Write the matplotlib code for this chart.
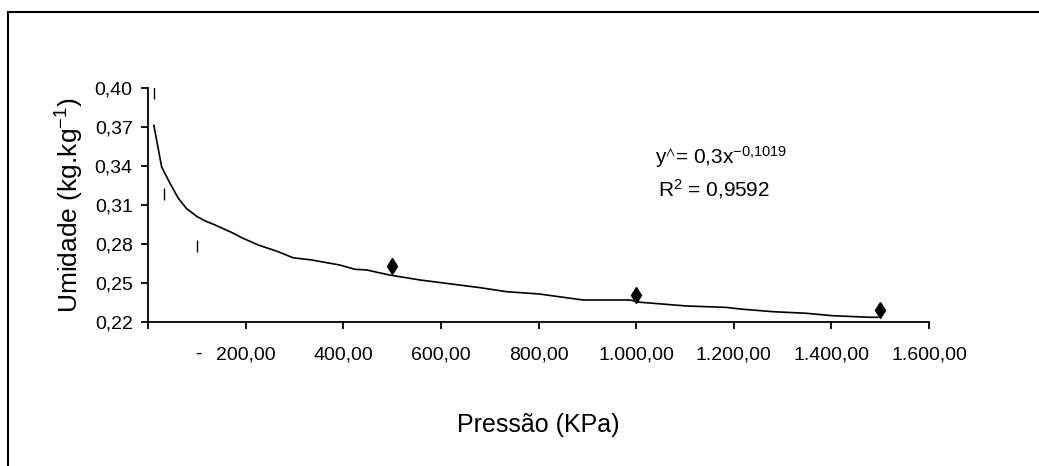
import matplotlib
matplotlib.use('Agg')
import matplotlib.pyplot as plt
from matplotlib.patches import Rectangle

plt.rcParams['font.family'] = ['Liberation Sans', 'DejaVu Sans']
plt.rcParams['mathtext.default'] = 'regular'

# fitted curve
curve_x = [12, 28, 45, 62, 79, 100, 117, 137, 175, 192, 226, 267, 297, 335,
           393, 424, 448, 495, 557, 611, 680, 734, 802, 891, 987, 1007, 1103,
           1185, 1212, 1280, 1348, 1403, 1478, 1495]
curve_y = [0.371, 0.339, 0.3265, 0.315, 0.307, 0.301, 0.2975, 0.2945, 0.288,
           0.2846, 0.279, 0.2738, 0.2692, 0.2675, 0.2636, 0.2603, 0.2598,
           0.2559, 0.2521, 0.2495, 0.2462, 0.2431, 0.2413, 0.2367, 0.2367,
           0.235, 0.2321, 0.231, 0.2298, 0.2277, 0.2265, 0.2246, 0.2234, 0.2234]

# observed points
bar_x = [13, 33, 100]
bar_y = [0.396, 0.3185, 0.278]
diam_x = [500, 1000, 1500]
diam_y = [0.263, 0.2405, 0.229]

xticks = [0, 200, 400, 600, 800, 1000, 1200, 1400, 1600]
xticklabels = ['', '200,00', '400,00', '600,00', '800,00', '1.000,00',
               '1.200,00', '1.400,00', '1.600,00']
yticks = [0.22, 0.25, 0.28, 0.31, 0.34, 0.37, 0.40]
yticklabels = ['0,22', '0,25', '0,28', '0,31', '0,34', '0,37', '0,40']

fig = plt.figure(figsize=(10.39, 4.66), dpi=100)
ax = fig.add_axes([148 / 1039, 1 - 321.7 / 466, 781 / 1039, 234 / 466])

ax.plot(curve_x, curve_y, color='black', lw=1.2)
ax.plot(bar_x, bar_y, ls='none', marker='|', ms=8, mew=1.0, color='black')
ax.plot(diam_x, diam_y, ls='none', marker='d', ms=8, color='black')

ax.set_xlim(0, 1600)
ax.set_ylim(0.22, 0.40)
ax.set_xticks(xticks)
ax.set_xticklabels(xticklabels)
ax.set_yticks(yticks)
ax.set_yticklabels(yticklabels)
ax.spines['top'].set_visible(False)
ax.spines['right'].set_visible(False)
for s in ['left', 'bottom']:
    ax.spines[s].set_linewidth(1.3)
ax.tick_params(axis='both', direction='out', length=5, width=1.3, labelsize=14)
ax.tick_params(axis='x', pad=13)
ax.tick_params(axis='y', pad=6)

# zero label shown as a dash (accounting format)
fig.text(198 / 1039, 1 - 354 / 466, '-', ha='center', va='center', fontsize=14)

ax.set_ylabel('Umidade (kg.kg$^{-1}$)', fontsize=19, labelpad=6)
fig.text(538 / 1039, 1 - 425 / 466, 'Pressão (KPa)', ha='center',
         va='center', fontsize=18)

fig.text(655 / 1039, 1 - 157 / 466, 'y$^{\\wedge}$= 0,3x$^{-0{,}1019}$',
         ha='left', va='center', fontsize=15)
fig.text(658 / 1039, 1 - 189 / 466, 'R$^{2}$ = 0,9592', ha='left',
         va='center', fontsize=15)

fig.patches.append(Rectangle((8 / 1039, -0.1), 1.2, 1.1 - 12 / 466,
                             transform=fig.transFigure, fill=False,
                             lw=1.5, edgecolor='black'))

fig.savefig('out.png', dpi=100)
